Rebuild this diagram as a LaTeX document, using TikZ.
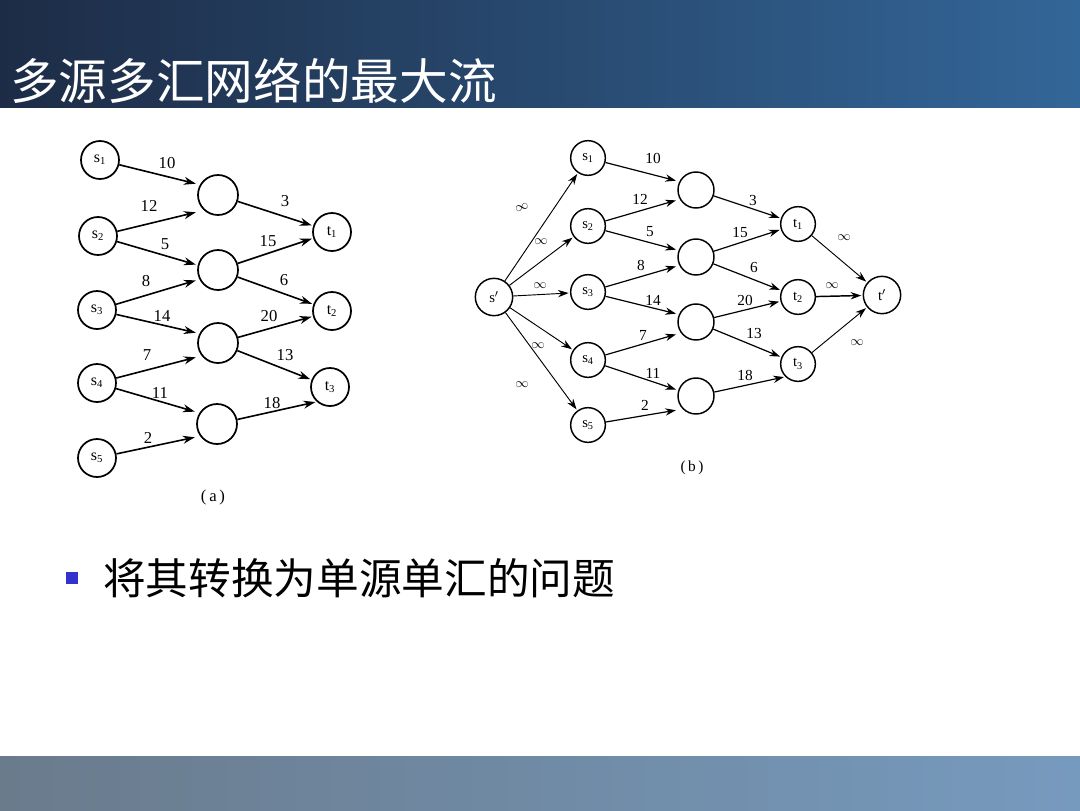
\documentclass[tikz,border=0pt]{standalone}
\usepackage{fontspec}
\setmainfont{Liberation Serif}
\newfontfamily\cjk{Noto Sans CJK SC}
\usetikzlibrary{arrows.meta}
\definecolor{barL}{RGB}{29,44,70}
\definecolor{barR}{RGB}{51,102,152}
\definecolor{footL}{RGB}{106,123,140}
\definecolor{footR}{RGB}{118,154,190}
\definecolor{bulletblue}{RGB}{51,51,204}
\tikzset{
  vtx/.style={circle,draw,line width=1.3pt,minimum size=28.5pt,inner sep=0pt,font=\fontsize{12}{12}\selectfont},
  vtxb/.style={circle,draw,line width=1.1pt,minimum size=26pt,inner sep=0pt,font=\fontsize{11}{11}\selectfont},
  arc/.style={line width=1.2pt,-{Stealth[length=9pt,width=6pt]},shorten >=1pt},
  arcb/.style={line width=0.9pt,-{Stealth[length=8pt,width=5.5pt]},shorten >=1pt},
  lab/.style={font=\fontsize{12.5}{12.5}\selectfont,inner sep=0pt},
  labb/.style={font=\fontsize{11.5}{11.5}\selectfont,inner sep=0pt},
  infl/.style={font=\fontsize{10}{10}\selectfont,inner sep=0pt},
}
\begin{document}
\begin{tikzpicture}[x=0.75pt,y=-0.75pt]
\useasboundingbox (0,0) rectangle (1080,810);
% header and footer bands
\shade[left color=barL,right color=barR] (0,0) rectangle (1080,107);
\shade[left color=footL,right color=footR] (0,756) rectangle (1080,810);
\node[anchor=west,text=white,font=\cjk\fontsize{36.5}{36.5}\selectfont,inner sep=0pt] (title) at (10,81) {多源多汇网络的最大流};

% ---------- network (a) ----------
\node[vtx] (as1) at (100,160) {s\textsubscript{1}};
\node[vtx] (as2) at (98,236) {s\textsubscript{2}};
\node[vtx] (as3) at (97,310) {s\textsubscript{3}};
\node[vtx] (as4) at (97,383) {s\textsubscript{4}};
\node[vtx] (as5) at (97,458) {s\textsubscript{5}};
\node[vtx,minimum size=30pt] (am1) at (218,195) {};
\node[vtx,minimum size=30pt] (am2) at (218,270) {};
\node[vtx,minimum size=30pt] (am3) at (218,343) {};
\node[vtx,minimum size=30pt] (am4) at (217,424) {};
\node[vtx] (at1) at (332,232) {t\textsubscript{1}};
\node[vtx] (at2) at (332,311) {t\textsubscript{2}};
\node[vtx] (at3) at (330,387) {t\textsubscript{3}};
\draw[arc] (as1) -- (am1.west|-0,184);
\draw[arc] (as2) -- (am1.west|-0,212);
\draw[arc] (as2) -- (am2.west|-0,265);
\draw[arc] (as3) -- (am2.west|-0,280);
\draw[arc] (as3) -- (am3.west|-0,333);
\draw[arc] (as4) -- (am3.west|-0,357);
\draw[arc] (as4) -- (am4.west|-0,412);
\draw[arc] (as5) -- (am4.west|-0,437);
\draw[arc] (am1) -- (at1);
\draw[arc] (am2) -- (at1);
\draw[arc] (am2) -- (at2);
\draw[arc] (am3) -- (at2);
\draw[arc] (am3) -- (at3);
\draw[arc] (am4) -- (at3.228);
\node[lab] (a10) at (167,163) {10};
\node[lab] (a12) at (149,206) {12};
\node[lab] (a5)  at (165,244) {5};
\node[lab] (a8)  at (146,281) {8};
\node[lab] (a14) at (162,316) {14};
\node[lab] (a7)  at (147,355) {7};
\node[lab] (a11) at (160,393) {11};
\node[lab] (a2)  at (148,438) {2};
\node[lab] (a3)  at (285,201) {3};
\node[lab] (a15) at (268,241) {15};
\node[lab] (a6)  at (284,280) {6};
\node[lab] (a20) at (269,316) {20};
\node[lab] (a13) at (285,355) {13};
\node[lab] (a18) at (272,403) {18};
\node[lab] (capa) at (213,497) {(\,a\,)};

% ---------- network (b) ----------
\node[vtxb,minimum size=28pt] (bs) at (494,297) {s$'$};
\node[vtxb] (bs1) at (588,158) {s\textsubscript{1}};
\node[vtxb] (bs2) at (588,226) {s\textsubscript{2}};
\node[vtxb] (bs3) at (588,292) {s\textsubscript{3}};
\node[vtxb] (bs4) at (588,360) {s\textsubscript{4}};
\node[vtxb] (bs5) at (588,425) {s\textsubscript{5}};
\node[vtxb,minimum size=27pt] (bm1) at (696,190) {};
\node[vtxb,minimum size=27pt] (bm2) at (696,257) {};
\node[vtxb,minimum size=27pt] (bm3) at (696,322) {};
\node[vtxb,minimum size=27pt] (bm4) at (696,396) {};
\node[vtxb] (bt1) at (798,224) {t\textsubscript{1}};
\node[vtxb] (bt2) at (798,297) {t\textsubscript{2}};
\node[vtxb] (bt3) at (798,364) {t\textsubscript{3}};
\node[vtxb,minimum size=28pt] (bt) at (882,295) {t$'$};
\draw[arcb,line width=0.7pt] (bs) -- (bs1);
\draw[arcb,line width=0.7pt] (bs) -- (bs2);
\draw[arcb,line width=0.7pt] (bs) -- (bs3);
\draw[arcb,line width=0.7pt] (bs) -- (bs4);
\draw[arcb,line width=0.7pt] (bs) -- (bs5);
\draw[arcb] (bs1) -- (bm1.west|-0,181);
\draw[arcb] (bs2) -- (bm1.west|-0,200);
\draw[arcb] (bs2) -- (bm2.west|-0,250);
\draw[arcb] (bs3) -- (bm2.west|-0,266);
\draw[arcb] (bs3) -- (bm3.west|-0,314);
\draw[arcb] (bs4) -- (bm3.west|-0,334);
\draw[arcb] (bs4) -- (bm4.west|-0,390);
\draw[arcb] (bs5) -- (bm4.west|-0,410);
\draw[arcb] (bm1) -- (bt1);
\draw[arcb] (bm2) -- (bt1);
\draw[arcb] (bm2) -- (bt2);
\draw[arcb] (bm3) -- (bt2);
\draw[arcb] (bm3) -- (bt3);
\draw[arcb] (bm4) -- (bt3.225);
\draw[arcb,line width=0.7pt] (bt1) -- (bt);
\draw[arcb,line width=1.1pt] (bt2) -- (bt);
\draw[arcb,line width=0.7pt] (bt3) -- (bt);
\node[labb] (b10) at (653,158) {10};
\node[labb] (b12) at (640,199) {12};
\node[labb] (b3)  at (753,200) {3};
\node[labb] (b5)  at (650,232) {5};
\node[labb] (b15) at (740,233) {15};
\node[labb] (b8)  at (641,265) {8};
\node[labb] (b6)  at (754,267) {6};
\node[labb] (b14) at (653,300) {14};
\node[labb] (b20) at (745,300) {20};
\node[labb] (b7)  at (643,335) {7};
\node[labb] (b13) at (754,333) {13};
\node[labb] (b11) at (653,373) {11};
\node[labb] (b18) at (745,375) {18};
\node[labb] (b2)  at (645,405) {2};
\node[infl,rotate=20] (i1) at (522,208) {$\infty$};
\node[infl] (i2) at (541,242) {$\infty$};
\node[infl] (i3) at (540,286) {$\infty$};
\node[infl] (i4) at (538,346) {$\infty$};
\node[infl] (i5) at (522,385) {$\infty$};
\node[infl] (i6) at (844,238) {$\infty$};
\node[infl] (i7) at (832,286) {$\infty$};
\node[infl] (i8) at (857,343) {$\infty$};
\node[labb] (capb) at (692,468) {(\,b\,)};

% ---------- bullet line ----------
\fill[bulletblue] (66,572) rectangle (78,584);
\node[anchor=west,font=\cjk\fontsize{32}{32}\selectfont,inner sep=0pt] (point) at (103,578) {将其转换为单源单汇的问题};
\end{tikzpicture}
\end{document}
